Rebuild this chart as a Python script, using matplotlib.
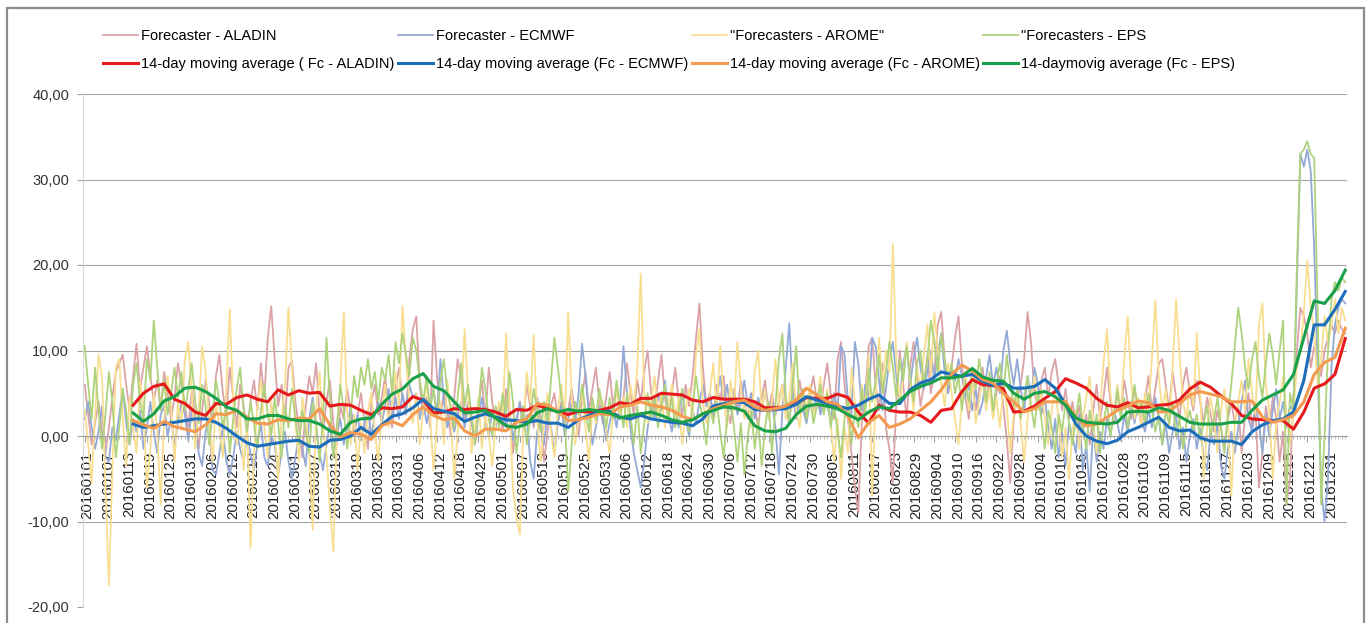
import numpy as np
import matplotlib
matplotlib.use('Agg')
import matplotlib.pyplot as plt
from matplotlib.patches import Rectangle
from matplotlib.ticker import FuncFormatter, MultipleLocator
from matplotlib.transforms import ScaledTranslation

plt.rcParams['font.family'] = ['Liberation Sans', 'DejaVu Sans']

# category labels shown on the x axis (every 6th day)
date_labels = ['20160101', '20160107', '20160113', '20160119', '20160125', '20160131',
               '20160206', '20160212', '20160218', '20160224', '20160301', '20160307',
               '20160313', '20160319', '20160325', '20160331', '20160406', '20160412',
               '20160418', '20160425', '20160501', '20160507', '20160513', '20160519',
               '20160525', '20160531', '20160606', '20160612', '20160618', '20160624',
               '20160630', '20160706', '20160712', '20160718', '20160724', '20160730',
               '20160805', '20160811', '20160817', '20160823', '20160829', '20160904',
               '20160910', '20160916', '20160922', '20160928', '20161004', '20161010',
               '20161016', '20161022', '20161028', '20161103', '20161109', '20161115',
               '20161121', '20161127', '20161203', '20161209', '20161215', '20161221',
               '20161231']

# daily values (one per category)
fc_aladin = [
    6.0, 2.5, -1.0, 1.5, 4.0, 0.5, -2.0, 1.0, 4.5, 7.5,
    8.5, 9.5, 6.0, 3.0, 7.0, 10.8, 5.5, 8.0, 10.5, 7.0,
    4.0, 6.5, 3.0, 7.5, 5.0, 2.0, 4.5, 8.5, 6.0, 3.5,
    1.0, 5.5, 2.0, -1.5, 3.0, 6.5, 4.0, 1.5, 7.0, 9.5,
    5.0, 2.5, 8.0, 4.5, 1.0, 6.0, 3.5, 0.5, 4.0, 6.5,
    3.0, 8.5, 4.5, 11.5, 15.2, 9.0, 3.5, 6.0, 2.0, 8.0,
    8.8, 4.0, 1.0, -2.5, 3.5, 7.0, 5.0, 8.5, 2.5, 0.5,
    4.0, 6.5, 1.5, -1.0, 3.5, 2.0, 5.5, 3.0, 0.0, 2.5,
    5.0, 1.5, -1.5, 4.0, 6.0, 2.5, 4.5, 7.0, 3.0, 1.0,
    5.5, 8.0, 4.5, 2.5, 9.0, 12.5, 14.0, 6.0, 2.5, 4.5,
    1.0, 13.5, 7.0, 2.5, 5.0, 3.0, 0.0, 4.5, 9.0, 6.5,
    2.0, 4.0, 1.5, -1.0, 3.5, 6.5, 2.0, 8.0, 4.0, 1.0,
    3.5, 0.5, 5.5, 2.5, -2.0, 1.5, 4.0, 2.0, 6.0, 3.5,
    1.0, 4.5, 2.0, -3.0, 0.5, 3.5, 5.0, 2.0, 4.0, 1.5,
    3.0, 5.5, 2.5, 0.0, 4.5, 7.5, 3.0, 5.5, 8.0, 4.0,
    1.5, 4.5, 7.5, 3.5, 6.0, 2.0, 4.5, 8.5, 5.0, 2.5,
    6.5, 4.0, 7.5, 10.0, 5.0, 3.0, 6.5, 9.5, 4.5, 2.0,
    5.0, 8.0, 4.0, 2.5, 6.0, 3.5, 7.0, 11.5, 15.5, 8.0,
    3.5, 5.0, 2.0, 6.0, 4.0, 7.0, 3.0, 1.5, 5.5, 3.0,
    6.5, 4.0, 2.0, 5.0, 3.5, 1.0, 4.5, 6.5, 3.0, 5.0,
    2.5, 4.0, 6.0, 3.5, 1.5, 5.5, 3.0, 6.5, 4.0, 2.0,
    5.0, 7.0, 4.0, 3.0, 6.0, 8.5, 5.0, 2.0, 9.0, 11.0,
    6.0, 2.0, -2.0, -6.0, -9.0, 1.5, 5.0, 10.5, 11.5, 6.0,
    3.0, 8.5, 1.0, -1.5, -5.5, 4.0, 10.0, 6.0, 2.0, 8.0,
    11.0, 7.5, 3.5, 6.0, 9.5, 5.0, 7.5, 13.0, 14.5, 9.0,
    5.0, 8.0, 11.5, 14.0, 8.5, 4.5, 2.0, 6.5, 3.0, 5.5,
    8.0, 4.0, 6.5, 2.5, 5.0, 7.0, 3.5, -0.5, -5.5, 2.0,
    4.5, 6.0, 9.0, 14.5, 11.0, 5.0, 3.5, 6.5, 8.0, 4.5,
    7.5, 9.0, 6.0, 3.0, 5.5, 2.0, 4.0, 1.5, 3.5, 0.5,
    2.5, -1.0, 3.0, 6.0, 2.0, 4.5, 8.0, 4.0, 1.5, 5.0,
    3.0, 6.5, 4.0, 2.0, 5.5, 3.5, 1.0, 4.0, 7.0, 3.0,
    5.5, 8.5, 9.0, 6.0, 3.0, 7.5, 4.5, 2.0, 6.0, 8.0,
    5.0, 3.0, 6.5, 4.0, 1.5, 4.5, 2.5, 0.5, 3.0, 1.0,
    -1.5, 2.0, 4.0, 1.5, 3.5, -2.0, 2.5, 5.0, 1.0, 3.0,
    -6.0, -2.0, 3.5, 1.0, 4.5, 2.0, -3.0, 0.5, -8.0, -5.0,
    5.0, 10.0, 15.0, 14.0, 12.0, 8.0, 10.5, 9.0, 7.0, 10.0,
    11.5, 13.0, 12.0, 13.5, 12.5, 12.0]

fc_ecmwf = [
    2.0, 4.0, 1.0, -1.5, 0.5, 3.5, -2.5, -3.0, 1.0, -0.5,
    2.5, 5.5, 1.5, -1.0, 2.0, 0.5, 3.0, -1.5, 1.0, 4.0,
    0.5, -2.0, 2.5, 3.5, 0.0, 2.0, -1.0, 1.5, 4.0, 2.5,
    -0.5, 3.0, 1.0, -2.0, -3.5, 0.5, 2.0, -4.0, -4.5, -2.0,
    1.0, -3.0, -4.5, -2.5, 0.5, -1.5, -3.0, 0.0, -2.0, -4.0,
    -1.0, 1.5, -2.5, -3.5, 0.0, -1.0, -4.5, -2.0, 0.5, -3.0,
    -5.0, -2.5, 0.0, -1.5, -3.5, 2.0, 4.5, 1.0, -2.0, -4.0,
    -1.0, 1.5, -2.5, 0.5, 2.0, -1.0, 1.0, 3.5, 0.5, 2.5,
    -0.5, 1.5, 3.0, 0.0, 2.5, 4.0, 1.5, 3.5, 5.5, 2.0,
    4.5, 2.0, 5.0, 3.0, 6.0, 4.5, 5.0, 2.0, 4.0, 1.5,
    3.5, 5.5, 2.5, 9.0, 4.0, 1.0, 3.0, 0.5, 2.5, 4.0,
    1.0, 3.5, 2.0, -1.0, 2.5, 4.5, 1.5, 0.0, 3.0, 1.0,
    2.5, 4.0, 1.0, 3.0, -0.5, 2.0, 4.0, 0.5, 2.5, -3.0,
    -5.0, 0.5, 2.0, -1.0, 3.0, 1.0, -2.0, 1.5, 3.5, 0.0,
    2.0, 4.0, 1.5, 5.0, 10.8, 7.0, 2.5, -1.0, 1.0, 3.5,
    2.0, -0.5, 1.5, 3.5, 1.0, 4.0, 10.5, 5.0, 1.0, -2.0,
    -4.0, -6.0, -3.0, 1.0, 3.5, 2.0, 5.0, 3.0, 6.5, 2.5,
    0.5, 3.0, 1.0, 5.5, 2.0, 0.0, 3.0, 1.5, 4.0, 6.0,
    3.5, 5.0, 2.5, 4.5, 7.0, 4.0, 6.0, 3.0, 5.0, 2.5,
    4.0, 6.5, 3.5, 5.0, 2.0, 4.5, 3.0, 5.5, 2.5, 4.0,
    1.0, -4.5, 3.0, 8.0, 13.2, 5.0, 2.0, 4.5, 3.0, 1.5,
    4.0, 3.0, 5.0, 2.5, 4.0, 3.5, 2.0, 5.0, 3.0, 10.5,
    9.5, 4.0, 2.5, 11.0, 8.5, 3.0, 6.0, 4.5, 11.5, 10.5,
    6.5, 3.0, 5.5, 9.0, 11.0, 7.0, 4.0, 8.5, 10.5, 6.0,
    9.0, 11.5, 8.0, 5.5, 7.5, 10.0, 6.5, 9.5, 12.0, 7.5,
    5.0, 8.0, 6.5, 9.0, 7.0, 4.5, 6.0, 3.0, 5.5, 2.5,
    4.0, 7.0, 9.5, 6.0, 8.0, 5.0, 10.0, 12.3, 8.5, 6.0,
    9.0, 5.5, 3.0, 7.0, 4.5, 8.0, 6.0, 2.5, 4.5, 1.0,
    -1.5, 2.0, -2.5, 0.5, -3.5, 1.5, 0.0, -2.0, 2.5, -4.0,
    -1.0, -6.5, 1.0, -3.0, 0.5, -1.5, 2.0, 0.0, 3.0, 1.5,
    -0.5, 2.5, 0.5, 3.5, 1.5, 4.0, 2.0, 0.5, 3.0, 1.0,
    4.5, 2.0, -1.0, 1.5, -2.0, 0.5, 2.5, -1.5, 1.0, -3.0,
    0.0, 2.0, -1.5, 1.0, -2.5, -4.0, 0.5, -1.0, 1.5, -3.5,
    -5.0, -1.5, 0.5, -2.0, 1.0, 4.0, 6.5, 2.0, 0.5, 3.5,
    1.5, -2.0, 2.5, 0.0, 3.0, 5.5, 2.0, 4.0, 1.0, 3.5,
    3.0, 18.0, 33.0, 31.5, 33.5, 31.0, 22.0, 8.0, -6.0, -10.0,
    -5.0, 8.0, 13.0, 15.0, 16.0, 15.5]

fc_arome = [
    3.0, -1.0, -5.5, 2.5, 9.5, 7.0, -6.0, -17.5, -4.0, 8.0,
    9.0, 2.0, -3.5, 4.5, 1.0, -2.0, 6.5, 3.0, -6.0, -1.5,
    5.0, 0.5, -8.0, 2.0, 7.0, 3.5, -3.0, 4.0, 1.0, 9.0,
    11.0, 5.0, -1.5, 3.0, 10.5, 7.5, 2.0, -3.0, 4.0, 1.0,
    -2.5, 5.5, 14.8, 4.0, -1.0, 2.5, -4.0, 1.5, -13.0, -2.0,
    3.5, 6.5, 1.0, -2.5, 4.0, 0.5, -5.0, 2.0, 6.0, 15.0,
    8.0, 1.5, -3.0, 4.5, 2.0, -1.5, -11.0, 3.0, 7.5, 1.0,
    -2.0, -8.5, -13.5, 0.5, 6.0, 14.5, 3.0, -1.0, 2.5, -4.0,
    1.5, -2.0, 3.0, 5.0, 0.5, -3.0, 2.5, 6.0, 1.0, 4.0,
    7.5, 3.5, 15.2, 9.0, 4.0, 1.5, 5.0, -1.0, 3.0, 6.5,
    2.0, -4.0, 1.5, 4.0, -1.0, 6.5, 2.0, -5.0, 0.5, 3.5,
    12.5, 5.0, -2.0, 1.0, 4.5, -1.5, 2.5, 0.0, -3.5, 1.5,
    4.0, 2.0, 12.0, 3.5, -6.0, -9.5, -11.5, 1.0, 7.5, 4.0,
    11.8, 2.0, -3.0, 1.5, 5.0, 0.5, -2.5, 3.0, 6.0, 2.0,
    14.5, 4.5, -1.0, 2.0, 5.5, 1.0, -3.0, 3.5, 1.5, 5.0,
    4.0, 0.5, -2.0, 3.0, 5.5, 2.0, 4.5, 1.0, 6.0, 3.5,
    8.0, 19.0, 5.0, 1.5, 4.0, 7.0, 2.5, 5.0, 1.0, 3.5,
    6.0, 2.0, 4.5, -1.0, 3.0, 5.5, 2.0, 9.5, 12.5, 4.0,
    1.5, 5.0, 8.5, 3.0, 10.5, 4.0, 1.0, 6.5, 3.0, 11.0,
    5.5, 2.0, 4.5, 1.0, 7.5, 10.0, 3.0, 5.5, 2.0, 4.0,
    9.0, 3.5, 6.0, 2.0, 4.5, 8.5, 3.0, 1.0, 5.5, 3.0,
    6.0, 2.5, 4.0, 7.0, 3.0, 5.5, 1.5, -3.0, 2.0, -5.0,
    1.0, -2.0, 8.0, 4.0, 1.5, 6.0, 3.0, 9.5, -7.0, 4.5,
    11.5, 6.0, 10.0, 7.5, 22.5, 9.0, 4.0, 7.0, 11.0, 6.5,
    3.0, 8.0, 5.5, 9.5, 13.0, 7.0, 14.5, 10.0, 6.0, 3.5,
    8.5, 5.0, 2.0, -1.0, 4.0, 7.5, 3.0, 6.5, 1.5, 4.0,
    7.0, 3.0, 5.5, 2.0, 4.5, 1.0, 6.0, 3.5, -2.0, 2.5,
    5.0, 1.5, -3.0, 2.0, 4.5, 7.0, 3.0, 5.5, 2.0, -1.0,
    3.0, 5.5, 2.0, -2.5, 1.0, -5.0, 0.5, 3.0, -1.5, 2.0,
    4.5, 7.0, 1.5, -2.0, 3.0, 8.5, 12.5, 5.0, 2.0, 6.0,
    3.0, 9.0, 14.0, 6.5, 2.0, 4.5, 1.0, 5.0, 3.0, 9.0,
    15.8, 7.0, 3.0, 5.5, 1.0, 8.0, 16.0, 9.5, 4.0, 2.0,
    6.0, 3.5, 12.0, 5.0, -5.0, 1.0, 4.5, 2.0, -2.0, 3.0,
    5.5, 2.0, -7.0, 1.5, 4.0, 6.5, 3.0, 9.0, 5.0, 2.5,
    13.0, 15.5, 6.0, 3.0, -5.0, 1.5, 4.0, 7.0, 2.5, -1.0,
    3.0, 8.0, 10.0, 14.5, 20.5, 15.0, 12.0, 6.0, 9.0, 14.0,
    11.0, 13.0, 16.0, 12.0, 15.0, 13.5]

fc_eps = [
    10.5, 6.0, 2.0, 8.0, 3.0, -1.5, 2.5, 7.5, 4.0, -2.5,
    1.0, 5.5, 3.0, -1.0, 6.0, 8.5, 4.0, 2.0, 9.0, 6.5,
    13.5, 8.0, 3.0, 6.5, 2.5, 5.0, 8.0, 4.5, 7.5, 3.0,
    5.5, 8.5, 4.0, 1.5, 6.0, 3.5, -1.0, 2.5, 6.5, 4.0,
    1.0, 3.5, -2.0, 2.0, 5.5, 8.0, 3.0, 0.5, 4.0, 1.5,
    -1.5, 3.0, 6.0, 2.5, 0.0, 4.5, 1.5, -2.5, 3.5, 1.0,
    5.5, 2.0, -1.0, 3.0, 0.5, -2.0, 4.0, 1.5, -3.0, 2.0,
    11.5, 4.0, -2.5, 1.0, 6.0, 3.0, -1.5, 2.5, 7.0, 4.5,
    8.0, 6.0, 9.0, 5.5, 7.5, 4.0, 8.0, 6.5, 9.5, 5.0,
    11.0, 8.5, 12.0, 9.5, 7.0, 11.5, 10.0, 6.5, 4.0, 7.0,
    3.0, 5.5, 2.0, 6.5, 9.0, 5.0, 3.5, 1.0, 4.5, 8.5,
    3.5, 6.0, 2.5, -1.0, 3.0, 8.0, 5.5, 2.0, 0.0, 3.5,
    1.0, 5.0, 2.5, 7.5, 4.0, -2.0, 1.5, 3.5, -1.0, 2.0,
    5.5, 3.0, 0.5, 4.0, 1.5, 6.5, 11.5, 8.0, 4.5, 2.0,
    -6.5, -1.0, 4.0, 2.5, 6.0, 3.0, 0.5, 4.5, 2.0, 5.5,
    3.0, 1.0, 4.5, 2.0, 6.5, 3.5, 1.0, 5.0, 2.5, -1.0,
    3.5, -2.0, 1.5, 5.0, 2.0, 4.5, 1.0, 3.5, 6.0, 2.0,
    4.5, 1.0, 3.0, 5.5, 2.0, 0.5, 3.5, 7.0, 4.0, 2.0,
    -1.0, 3.5, 1.5, 4.0, 0.5, -2.5, 2.0, 4.5, 1.0, -3.0,
    1.5, -4.5, 0.0, 3.0, -1.5, 2.0, -3.5, 1.0, 4.0, -2.0,
    3.5, 9.0, 12.0, 4.5, 1.5, 6.0, 10.5, 3.0, 5.5, 2.0,
    4.5, 1.5, 3.5, 6.0, 2.5, 5.0, 1.0, 3.5, 0.5, -2.5,
    2.0, 4.5, -1.0, 3.0, 1.0, 5.5, 2.5, 8.0, 4.0, 6.5,
    9.5, 5.0, 7.5, 11.0, 8.0, 4.5, 9.0, 6.5, 10.5, 7.0,
    4.0, 8.5, 10.0, 6.0, 9.0, 13.5, 11.0, 7.5, 12.0, 9.0,
    6.0, 8.5, 5.0, 7.0, 3.0, 6.5, 4.0, 8.0, 5.5, 9.0,
    6.5, 4.0, 7.5, 3.0, 6.0, 8.5, 5.0, 9.5, 6.0, 3.5,
    5.5, 2.0, 4.5, 7.0, 3.5, 1.0, 5.0, 2.0, -1.5, 3.0,
    1.0, -2.0, 2.5, 0.5, 4.0, 1.5, -1.0, 2.0, 5.0, 1.0,
    -1.5, 3.0, 0.5, 2.5, -2.0, 1.5, 4.0, 0.0, 2.5, 5.5,
    2.0, 4.5, 1.0, 3.5, 6.0, 2.5, 4.0, 1.5, 5.0, 3.0,
    0.5, 2.5, -1.0, 3.0, 1.5, 4.0, 0.0, 2.0, -1.5, 1.5,
    3.0, 0.5, 2.5, -0.5, 1.5, 3.5, 0.0, 2.0, 4.5, 1.0,
    -2.0, 2.5, 6.0, 10.5, 15.0, 12.0, 8.0, 5.5, 9.0, 11.0,
    7.0, 4.5, 8.5, 12.0, 9.5, 6.0, 10.0, 13.5, -8.0, 5.0,
    3.0, 20.0, 33.0, 33.5, 34.5, 33.0, 32.5, 15.0, -8.0, 0.0,
    10.0, 16.0, 18.0, 17.0, 18.5, 18.0]

# 14-day moving averages, read every 3rd day starting at day 14
ma_first_day = 14
ma_every = 3
ma_aladin = [
    3.6, 5.0, 5.8, 6.1, 4.3, 3.8, 2.8, 2.4, 3.8, 3.7, 4.5, 4.8, 4.3, 4.0, 5.4, 4.8,
    5.3, 5.0, 5.1, 3.5, 3.7, 3.6, 3.0, 2.5, 3.3, 3.2, 3.4, 4.6, 4.2, 2.7, 2.8, 3.2,
    3.1, 3.2, 3.1, 2.8, 2.3, 3.1, 3.0, 3.6, 3.2, 2.9, 2.5, 2.9, 2.8, 3.0, 3.3, 3.9,
    3.7, 4.4, 4.4, 5.0, 4.9, 4.8, 4.2, 4.0, 4.5, 4.3, 4.3, 4.3, 4.0, 3.3, 3.3, 3.4,
    3.8, 4.5, 4.4, 4.4, 4.9, 4.5, 2.8, 1.5, 3.6, 3.0,
    2.8, 2.8, 2.4, 1.6, 3.0, 3.2, 5.2, 6.6, 6.0, 5.9, 5.5, 2.8, 2.9, 3.5, 4.4, 5.2,
    6.7, 6.2, 5.6, 4.4, 3.6, 3.4, 3.9, 3.3, 3.4, 3.6, 3.7, 4.2, 5.5, 6.3, 5.7, 4.7,
    3.8, 2.4, 2.0, 1.9, 1.8, 1.8, 0.8, 2.8, 5.6, 6.1, 7.2, 11.4]
ma_ecmwf = [
    1.4, 1.0, 1.2, 1.4, 1.6, 1.8, 2.0, 2.0, 1.6, 0.9, 0.0, -0.8, -1.2, -1.0, -0.8, -0.6,
    -0.5, -1.2, -1.3, -0.5, -0.4, 0.0, 1.0, 0.2, 1.3, 2.3, 2.6, 3.3, 4.3, 3.2, 2.9, 2.6,
    1.7, 2.2, 2.6, 2.2, 1.9, 1.8, 1.6, 1.8, 1.5, 1.5, 1.0, 1.9, 2.4, 2.8, 2.9, 2.2,
    2.0, 2.4, 2.0, 1.8, 1.6, 1.5, 1.2, 2.0, 3.5, 3.8, 4.0, 3.9, 3.1, 3.0, 3.1, 3.2,
    3.7, 4.6, 4.2, 3.8, 3.5, 3.2, 3.6, 4.3, 4.8, 3.8,
    3.8, 5.4, 6.2, 6.6, 7.5, 7.2, 7.0, 7.2, 6.4, 5.9, 6.2, 5.6, 5.6, 5.8, 6.6, 5.6,
    3.7, 1.4, 0.0, -0.6, -0.9, -0.5, 0.5, 1.0, 1.6, 2.2, 1.0, 0.6, 0.7, -0.2, -0.6, -0.6,
    -0.6, -1.0, 0.5, 1.3, 1.8, 2.0, 2.8, 6.5, 13.0, 13.0, 14.8, 16.9]
ma_arome = [
    1.8, 1.3, 0.9, 1.7, 1.1, 0.8, 0.5, 1.3, 2.6, 2.5, 3.0, 2.2, 1.5, 1.4, 1.9, 1.8,
    2.1, 2.0, 3.2, 1.3, -0.1, 0.4, 0.2, -0.4, 1.2, 1.7, 1.2, 2.5, 3.4, 2.4, 1.9, 2.1,
    0.6, 0.0, 0.8, 0.8, 0.6, 1.6, 2.0, 3.8, 3.6, 2.9, 1.8, 1.9, 2.2, 2.6, 2.5, 3.4,
    3.6, 4.0, 3.6, 3.4, 3.0, 2.3, 1.9, 2.6, 3.2, 3.6, 4.0, 4.2, 3.4, 3.0, 3.2, 3.5,
    4.2, 5.6, 4.8, 4.0, 3.7, 2.3, -0.2, 1.6, 2.4, 1.0,
    1.4, 2.0, 3.0, 4.0, 5.4, 7.2, 8.3, 7.6, 6.6, 6.2, 5.0, 4.0, 2.8, 3.2, 4.0, 4.0,
    4.0, 2.2, 1.2, 1.4, 2.2, 3.0, 3.5, 4.1, 3.9, 2.8, 2.9, 3.8, 4.8, 5.2, 4.9, 4.6,
    4.0, 4.0, 4.1, 2.2, 1.6, 1.9, 2.4, 4.0, 7.2, 8.6, 9.2, 12.6]
ma_eps = [
    2.7, 1.7, 2.6, 4.1, 4.6, 5.6, 5.7, 5.2, 4.4, 3.4, 3.0, 2.0, 2.0, 2.4, 2.4, 2.0,
    1.8, 1.8, 1.4, 0.6, 0.2, 1.6, 2.0, 2.1, 3.7, 4.9, 5.5, 6.7, 7.3, 5.8, 5.3, 4.0,
    2.7, 2.8, 3.0, 2.1, 1.2, 1.0, 1.4, 2.7, 3.2, 2.8, 3.1, 2.9, 3.1, 2.9, 2.7, 2.1,
    2.4, 2.6, 2.8, 2.4, 1.9, 1.6, 1.9, 2.6, 3.0, 3.4, 3.3, 2.9, 1.2, 0.6, 0.5, 0.9,
    2.5, 3.5, 3.7, 3.5, 3.2, 2.5, 1.9, 2.8, 3.4, 3.2,
    4.2, 5.2, 5.8, 6.2, 6.8, 6.8, 7.0, 7.9, 6.9, 6.5, 6.4, 5.0, 4.3, 5.0, 5.2, 4.6,
    3.6, 2.1, 1.6, 1.5, 1.4, 1.6, 2.8, 2.9, 2.8, 3.3, 3.0, 2.3, 1.6, 1.4, 1.4, 1.4,
    1.6, 1.6, 3.0, 4.2, 4.8, 5.4, 7.2, 11.5, 15.8, 15.5, 17.0, 19.4]

raw_series = [
    (fc_aladin, 'Forecaster - ALADIN', '#dba3a8'),
    (fc_ecmwf, 'Forecaster - ECMWF', '#93a9d6'),
    (fc_arome, '"Forecasters - AROME"', '#f8de90'),
    (fc_eps, '"Forecasters - EPS', '#aed37c'),
]
ma_series = [
    (ma_aladin, '14-day moving average ( Fc - ALADIN)', '#e5191c'),
    (ma_ecmwf, '14-day moving average (Fc - ECMWF)', '#1c6dba'),
    (ma_arome, '14-day moving average (Fc - AROME)', '#f39a50'),
    (ma_eps, '14-daymovig average (Fc - EPS)', '#19a049'),
]

W, H = 1372, 623
fig = plt.figure(figsize=(W / 100, H / 100), dpi=100)
ax = fig.add_axes([83 / W, 1 - 607 / H, (1347 - 83) / W, (607 - 94) / H])

days = np.arange(len(fc_aladin))
ma_days = ma_first_day + ma_every * np.arange(len(ma_aladin))

raw_handles = []
for values, label, color in raw_series:
    h, = ax.plot(days, values, color=color, lw=1.3, label=label, zorder=2)
    raw_handles.append(h)

ma_handles = []
for values, label, color in ma_series:
    h, = ax.plot(ma_days, values, color=color, lw=2.2, label=label, zorder=3)
    ma_handles.append(h)

ax.set_xlim(-0.5, len(days) - 0.5)
ax.set_ylim(-20, 40)

# y axis with comma decimals, gridlines every 10
ax.set_yticks(np.arange(-20, 41, 10))
ax.yaxis.set_major_formatter(FuncFormatter(lambda v, _: f'{v:.2f}'.replace('.', ',')))
ax.yaxis.grid(True, color='#a6a6a6', lw=0.8)
ax.set_axisbelow(True)

# category axis crosses at 0
ax.spines['bottom'].set_position(('data', 0))
ax.spines['bottom'].set_color('#a0a0a0')
ax.spines['left'].set_color('#d9d9d9')
ax.spines['top'].set_visible(False)
ax.spines['right'].set_visible(False)

ax.set_xticks(np.arange(0, len(days), 6)[:len(date_labels)])
ax.set_xticklabels(date_labels, rotation=90)
ax.xaxis.set_minor_locator(MultipleLocator(1))

ax.tick_params(axis='x', which='major', length=4, color='#a0a0a0', pad=7,
               labelsize=10.8, labelcolor='#222222')
ax.tick_params(axis='x', which='minor', length=2.5, color='#b0b0b0')
ax.tick_params(axis='y', length=4, color='#a0a0a0', pad=6,
               labelsize=10.5, labelcolor='#333333')

# excel draws the rotated labels a few pixels right of the category
shift = ScaledTranslation(3 / 100, 0, fig.dpi_scale_trans)
for lbl in ax.get_xticklabels():
    lbl.set_transform(lbl.get_transform() + shift)

# legend: 2 rows x 4 columns, filled row by row
order = []
for r, m in zip(raw_handles, ma_handles):
    order += [r, m]
fig.legend(handles=order, labels=[h.get_label() for h in order],
           ncol=4, loc='upper left', bbox_to_anchor=(103 / W, 1 - 29 / H),
           frameon=False, fontsize=10.5, handlelength=2.4, handletextpad=0.2,
           columnspacing=0.25, labelspacing=0.95, borderpad=0, borderaxespad=0)

# grey chart-area border (bottom edge falls outside the picture)
fig.add_artist(Rectangle((7 / W, -0.05), (1364 - 7) / W, 1.05 - 8 / H,
                         transform=fig.transFigure, fill=False,
                         edgecolor='#8c8c8c', lw=1.6, clip_on=False))

fig.savefig('out.png', dpi=100)
